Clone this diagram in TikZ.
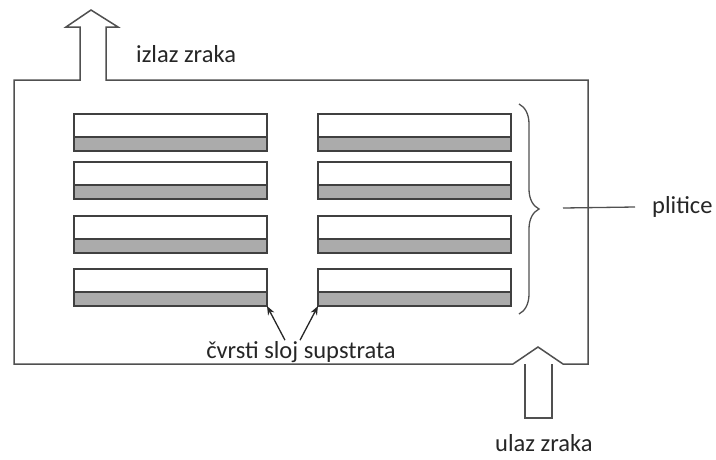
\documentclass[tikz,border=0pt]{standalone}
\usepackage{fontspec}
\setmainfont{Carlito}
\usetikzlibrary{decorations.pathreplacing,arrows.meta}
\definecolor{linec}{HTML}{505050}
\definecolor{txtc}{HTML}{262626}
\definecolor{subc}{HTML}{ABABAB}
\tikzset{
  outline/.style={draw=linec, line width=1.5pt, line join=miter},
  platetop/.style={draw=linec!80!black, line width=1.3pt, fill=white, minimum width=193pt, minimum height=23pt, inner sep=0pt, outer sep=0pt, anchor=north west},
  platebot/.style={draw=linec!80!black, line width=1.3pt, fill=subc, minimum width=193pt, minimum height=14pt, inner sep=0pt, outer sep=0pt, anchor=north west},
  lbl/.style={text=txtc, font=\fontsize{24.5}{28}\selectfont, inner sep=0pt},
  pointer/.style={draw=black!85, line width=1.3pt, -{Stealth[length=9pt,width=7pt]}}
}
\begin{document}
\begin{tikzpicture}[x=1pt,y=-1pt]
\useasboundingbox (0,0) rectangle (716,459);
% chamber outline with outlet and inlet arrow heads
\draw[outline] (14,80) -- (80,80) -- (80,27) -- (66,27) -- (91,10) -- (118,27) -- (106,27) -- (106,80)
  -- (588,80) -- (588,364) -- (563,364) -- (538,347) -- (513,364) -- (14,364) -- cycle;
% inlet shaft
\draw[outline] (525,364) -- (525,418) -- (552,418) -- (552,364);
% plates
\foreach \c/\x in {L/74,R/318}{
  \foreach \i/\y in {1/114,2/162,3/216,4/269}{
    \node[platetop] (p\c\i) at (\x,\y) {};
    \node[platebot] (s\c\i) at (p\c\i.south west) {};
  }
}
% brace
\draw[draw=linec, line width=1.3pt, decorate,
  decoration={brace, amplitude=20pt}] (519,104) -- (519,314);
\coordinate (bt) at (563,208);
% labels
\node[lbl, anchor=west] (izlaz) at (136,54) {izlaz zraka};
\node[lbl, anchor=west] (ulaz) at (495,443) {ulaz zraka};
\node[lbl, anchor=west] (plitice) at (652,207) {plitice};
\node[lbl] (cvrsti) at (301,352) {čvrsti sloj supstrata};
\draw[draw=linec, line width=1.3pt] (bt) -- ([xshift=-17pt]plitice.west);
% pointers
\draw[pointer] ([xshift=-16pt,yshift=1pt]cvrsti.north) -- (sL4.south east);
\draw[pointer] ([xshift=-1pt,yshift=1pt]cvrsti.north) -- (sR4.south west);
\end{tikzpicture}
\end{document}
